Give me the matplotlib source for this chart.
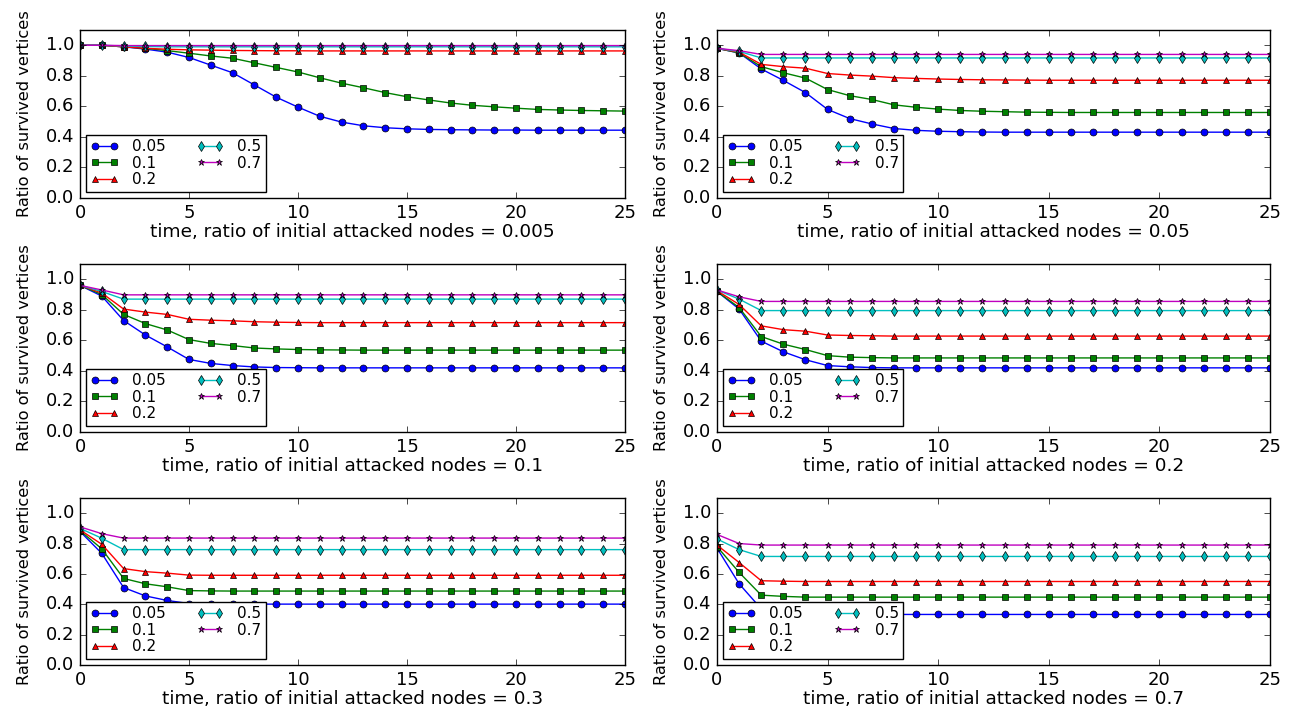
import matplotlib
matplotlib.use("Agg")
import matplotlib.pyplot as plt

plt.style.use("classic")

time = list(range(26))
labels = ["0.05", "0.1", "0.2", "0.5", "0.7"]
markers = ["o", "s", "^", "d", "*"]
colors = ["b", "g", "r", "c", "m"]
initial = ["0.005", "0.05", "0.1", "0.2", "0.3", "0.7"]

# ratio of initial attacked nodes = 0.005
p005 = [
    [1.0, 1.0, 0.99, 0.975, 0.955, 0.92, 0.87, 0.82, 0.74, 0.66, 0.595, 0.535, 0.497, 0.473, 0.46,
     0.453, 0.449, 0.447, 0.446, 0.445, 0.445, 0.444, 0.444, 0.444, 0.444, 0.444],
    [1.0, 1.0, 0.99, 0.98, 0.965, 0.948, 0.93, 0.915, 0.885, 0.855, 0.825, 0.787, 0.752, 0.722, 0.69,
     0.663, 0.642, 0.622, 0.607, 0.597, 0.588, 0.58, 0.576, 0.573, 0.571, 0.569],
    [1.0, 1.0, 0.99, 0.98, 0.974, 0.97, 0.968, 0.966, 0.965, 0.964, 0.964, 0.963, 0.963, 0.963, 0.963,
     0.963, 0.963, 0.963, 0.963, 0.963, 0.963, 0.963, 0.963, 0.963, 0.963, 0.963],
    [1.0, 1.0, 0.995, 0.992, 0.99, 0.99, 0.99, 0.99, 0.99, 0.99, 0.99, 0.99, 0.99, 0.99, 0.99,
     0.99, 0.99, 0.99, 0.99, 0.99, 0.99, 0.99, 0.99, 0.99, 0.99, 0.99],
    [1.0, 1.0, 0.998, 0.998, 0.998, 0.998, 0.998, 0.998, 0.998, 0.998, 0.998, 0.998, 0.998, 0.998, 0.998,
     0.998, 0.998, 0.998, 0.998, 0.998, 0.998, 0.998, 0.998, 0.998, 0.998, 0.998],
]

# ratio of initial attacked nodes = 0.05
p05 = [
    [0.98, 0.95, 0.845, 0.77, 0.69, 0.58, 0.52, 0.485, 0.455, 0.443, 0.437, 0.434, 0.432, 0.431, 0.431,
     0.431, 0.431, 0.431, 0.431, 0.431, 0.431, 0.431, 0.431, 0.431, 0.431, 0.431],
    [0.98, 0.95, 0.86, 0.82, 0.785, 0.71, 0.67, 0.645, 0.61, 0.594, 0.582, 0.573, 0.568, 0.565, 0.562,
     0.561, 0.56, 0.56, 0.56, 0.56, 0.56, 0.56, 0.56, 0.56, 0.56, 0.56],
    [0.98, 0.955, 0.875, 0.86, 0.85, 0.815, 0.805, 0.798, 0.788, 0.783, 0.779, 0.776, 0.774, 0.773, 0.772,
     0.771, 0.771, 0.771, 0.771, 0.771, 0.771, 0.771, 0.771, 0.771, 0.771, 0.771],
    [0.98, 0.96, 0.917, 0.917, 0.917, 0.917, 0.917, 0.917, 0.917, 0.917, 0.917, 0.917, 0.917, 0.917, 0.917,
     0.917, 0.917, 0.917, 0.917, 0.917, 0.917, 0.917, 0.917, 0.917, 0.917, 0.917],
    [0.98, 0.965, 0.94, 0.94, 0.94, 0.94, 0.94, 0.94, 0.94, 0.94, 0.94, 0.94, 0.94, 0.94, 0.94,
     0.94, 0.94, 0.94, 0.94, 0.94, 0.94, 0.94, 0.94, 0.94, 0.94, 0.94],
]

# ratio of initial attacked nodes = 0.1
p1 = [
    [0.96, 0.89, 0.73, 0.635, 0.557, 0.475, 0.449, 0.435, 0.426, 0.422, 0.421, 0.42, 0.42, 0.42, 0.42,
     0.42, 0.42, 0.42, 0.42, 0.42, 0.42, 0.42, 0.42, 0.42, 0.42, 0.42],
    [0.96, 0.9, 0.77, 0.71, 0.668, 0.605, 0.58, 0.566, 0.55, 0.544, 0.54, 0.538, 0.537, 0.536, 0.536,
     0.536, 0.536, 0.536, 0.536, 0.536, 0.536, 0.536, 0.536, 0.536, 0.536, 0.536],
    [0.96, 0.91, 0.805, 0.785, 0.77, 0.738, 0.732, 0.728, 0.722, 0.719, 0.717, 0.716, 0.716, 0.716, 0.716,
     0.716, 0.716, 0.716, 0.716, 0.716, 0.716, 0.716, 0.716, 0.716, 0.716, 0.716],
    [0.96, 0.92, 0.87, 0.87, 0.87, 0.87, 0.87, 0.87, 0.87, 0.87, 0.87, 0.87, 0.87, 0.87, 0.87,
     0.87, 0.87, 0.87, 0.87, 0.87, 0.87, 0.87, 0.87, 0.87, 0.87, 0.87],
    [0.96, 0.93, 0.898, 0.898, 0.898, 0.898, 0.898, 0.898, 0.898, 0.898, 0.898, 0.898, 0.898, 0.898, 0.898,
     0.898, 0.898, 0.898, 0.898, 0.898, 0.898, 0.898, 0.898, 0.898, 0.898, 0.898],
]

# ratio of initial attacked nodes = 0.2
p2 = [
    [0.92, 0.805, 0.595, 0.525, 0.473, 0.435, 0.427, 0.422, 0.42, 0.42, 0.42, 0.42, 0.42, 0.42, 0.42,
     0.42, 0.42, 0.42, 0.42, 0.42, 0.42, 0.42, 0.42, 0.42, 0.42, 0.42],
    [0.92, 0.815, 0.625, 0.575, 0.54, 0.5, 0.49, 0.487, 0.485, 0.485, 0.485, 0.485, 0.485, 0.485, 0.485,
     0.485, 0.485, 0.485, 0.485, 0.485, 0.485, 0.485, 0.485, 0.485, 0.485, 0.485],
    [0.925, 0.835, 0.695, 0.67, 0.66, 0.635, 0.632, 0.63, 0.628, 0.628, 0.628, 0.628, 0.628, 0.628, 0.628,
     0.628, 0.628, 0.628, 0.628, 0.628, 0.628, 0.628, 0.628, 0.628, 0.628, 0.628],
    [0.93, 0.87, 0.795, 0.795, 0.795, 0.795, 0.795, 0.795, 0.795, 0.795, 0.795, 0.795, 0.795, 0.795, 0.795,
     0.795, 0.795, 0.795, 0.795, 0.795, 0.795, 0.795, 0.795, 0.795, 0.795, 0.795],
    [0.93, 0.885, 0.855, 0.855, 0.855, 0.855, 0.855, 0.855, 0.855, 0.855, 0.855, 0.855, 0.855, 0.855, 0.855,
     0.855, 0.855, 0.855, 0.855, 0.855, 0.855, 0.855, 0.855, 0.855, 0.855, 0.855],
]

# ratio of initial attacked nodes = 0.3
p3 = [
    [0.88, 0.735, 0.51, 0.455, 0.425, 0.405, 0.402, 0.401, 0.401, 0.401, 0.401, 0.401, 0.401, 0.401, 0.401,
     0.401, 0.401, 0.401, 0.401, 0.401, 0.401, 0.401, 0.401, 0.401, 0.401, 0.401],
    [0.885, 0.765, 0.57, 0.535, 0.515, 0.49, 0.488, 0.487, 0.487, 0.487, 0.487, 0.487, 0.487, 0.487, 0.487,
     0.487, 0.487, 0.487, 0.487, 0.487, 0.487, 0.487, 0.487, 0.487, 0.487, 0.487],
    [0.89, 0.795, 0.635, 0.615, 0.605, 0.592, 0.591, 0.591, 0.591, 0.591, 0.591, 0.591, 0.591, 0.591, 0.591,
     0.591, 0.591, 0.591, 0.591, 0.591, 0.591, 0.591, 0.591, 0.591, 0.591, 0.591],
    [0.9, 0.835, 0.76, 0.76, 0.76, 0.76, 0.76, 0.76, 0.76, 0.76, 0.76, 0.76, 0.76, 0.76, 0.76,
     0.76, 0.76, 0.76, 0.76, 0.76, 0.76, 0.76, 0.76, 0.76, 0.76, 0.76],
    [0.91, 0.865, 0.836, 0.836, 0.836, 0.836, 0.836, 0.836, 0.836, 0.836, 0.836, 0.836, 0.836, 0.836, 0.836,
     0.836, 0.836, 0.836, 0.836, 0.836, 0.836, 0.836, 0.836, 0.836, 0.836, 0.836],
]

# ratio of initial attacked nodes = 0.7
p7 = [
    [0.77, 0.535, 0.37, 0.335, 0.333, 0.333, 0.333, 0.333, 0.333, 0.333, 0.333, 0.333, 0.333, 0.333, 0.333,
     0.333, 0.333, 0.333, 0.333, 0.333, 0.333, 0.333, 0.333, 0.333, 0.333, 0.333],
    [0.78, 0.61, 0.46, 0.452, 0.447, 0.447, 0.447, 0.447, 0.447, 0.447, 0.447, 0.447, 0.447, 0.447, 0.447,
     0.447, 0.447, 0.447, 0.447, 0.447, 0.447, 0.447, 0.447, 0.447, 0.447, 0.447],
    [0.79, 0.675, 0.555, 0.552, 0.55, 0.55, 0.55, 0.55, 0.55, 0.55, 0.55, 0.55, 0.55, 0.55, 0.55,
     0.55, 0.55, 0.55, 0.55, 0.55, 0.55, 0.55, 0.55, 0.55, 0.55, 0.55],
    [0.83, 0.76, 0.715, 0.715, 0.715, 0.715, 0.715, 0.715, 0.715, 0.715, 0.715, 0.715, 0.715, 0.715, 0.715,
     0.715, 0.715, 0.715, 0.715, 0.715, 0.715, 0.715, 0.715, 0.715, 0.715, 0.715],
    [0.86, 0.8, 0.79, 0.79, 0.79, 0.79, 0.79, 0.79, 0.79, 0.79, 0.79, 0.79, 0.79, 0.79, 0.79,
     0.79, 0.79, 0.79, 0.79, 0.79, 0.79, 0.79, 0.79, 0.79, 0.79, 0.79],
]

panels = [p005, p05, p1, p2, p3, p7]

fig = plt.figure(figsize=(12.96, 7.08), dpi=100, facecolor="white")
W, H = 1296.0, 708.0
cols = [(80, 625), (717, 1270)]
rows = [(30, 198), (264, 432), (498, 665)]

for i, data in enumerate(panels):
    x0, x1 = cols[i % 2]
    y0, y1 = rows[i // 2]
    ax = fig.add_axes([x0 / W, 1 - y1 / H, (x1 - x0) / W, (y1 - y0) / H])
    for k in range(5):
        ax.plot(time, data[k], color=colors[k], marker=markers[k], label=labels[k], markersize=5)
    ax.set_xlim(0, 25)
    ax.set_ylim(0, 1.1)
    ax.set_yticks([0.0, 0.2, 0.4, 0.6, 0.8, 1.0])
    ax.tick_params(labelsize=13)
    ax.set_xlabel("time, ratio of initial attacked nodes = " + initial[i], fontsize=13.3, labelpad=1)
    ax.set_ylabel("Ratio of survived vertices", fontsize=11.7, labelpad=10)
    ax.legend(loc="lower left", ncol=2, fontsize=11, numpoints=2, borderaxespad=0.4,
              handlelength=1.8, handletextpad=0.9, labelspacing=0.1, columnspacing=2.0,
              borderpad=0.3)

plt.savefig("out.png", dpi=100, facecolor="white")
